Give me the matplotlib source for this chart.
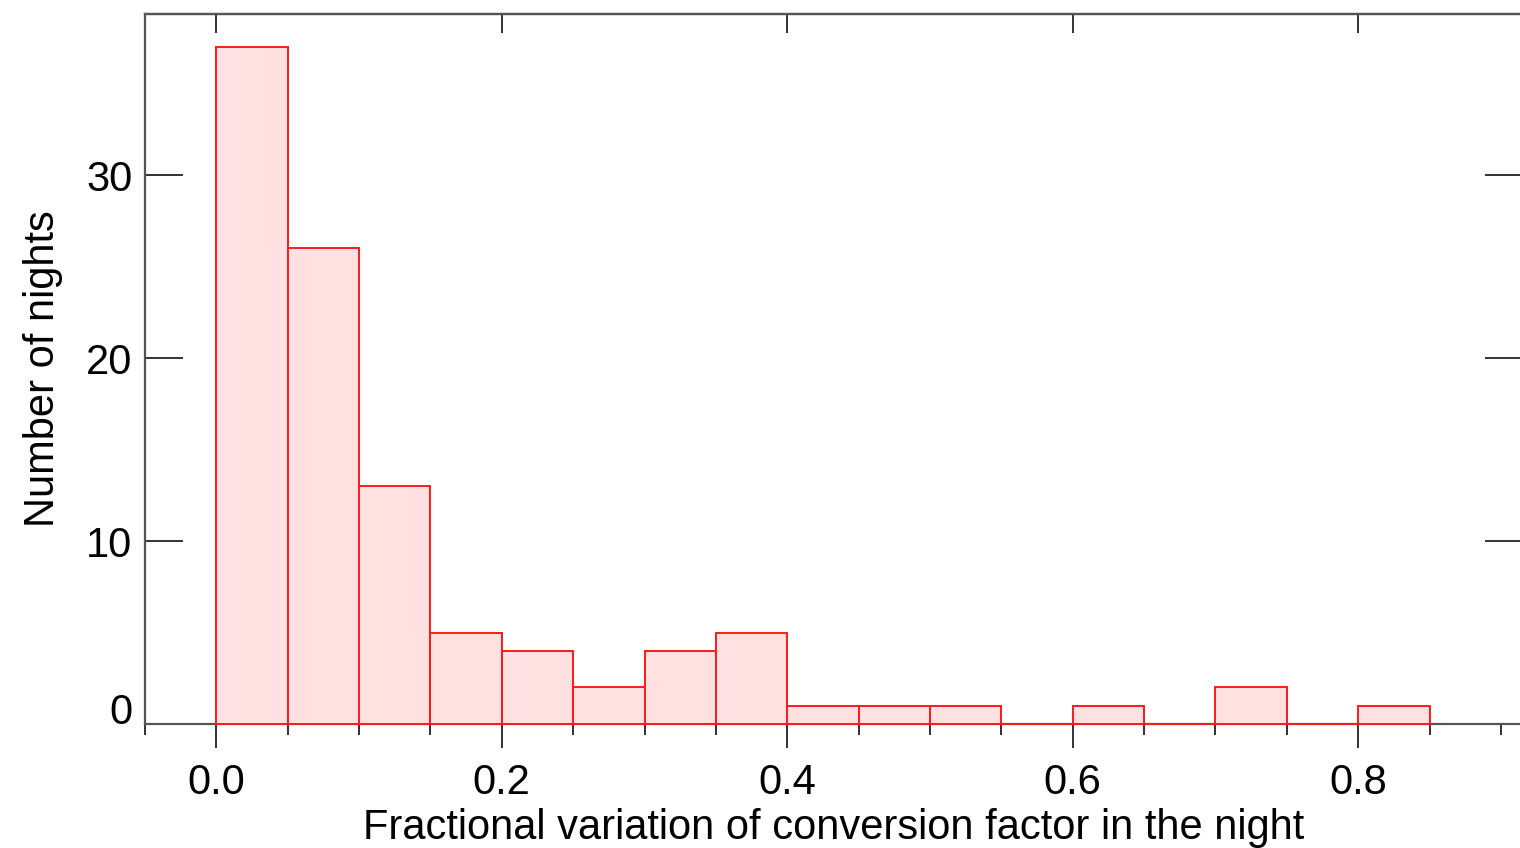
import matplotlib
matplotlib.use("Agg")
import matplotlib.pyplot as plt
import numpy as np

# Data: histogram bin left edges (width 0.05) and counts
bin_left = [0.00, 0.05, 0.10, 0.15, 0.20, 0.25, 0.30, 0.35, 0.40, 0.45,
            0.50, 0.55, 0.60, 0.65, 0.70, 0.75, 0.80]
counts = [37, 26, 13, 5, 4, 2, 4, 5, 1, 1, 1, 0, 1, 0, 2, 0, 1]
bin_width = 0.05
x_major = [0.0, 0.2, 0.4, 0.6, 0.8]
x_major_labels = ["0.0", "0.2", "0.4", "0.6", "0.8"]
y_major = [0, 10, 20, 30]
y_major_labels = ["0", "10", "20", "30"]

plt.rcParams['font.family'] = ['Liberation Sans', 'DejaVu Sans']

W, H = 1520, 848
fig = plt.figure(figsize=(W / 100, H / 100), dpi=100)
left, right, top, bottom = 145, 1522, 14, 724
ax = fig.add_axes([left / W, 1 - bottom / H, (right - left) / W, (bottom - top) / H])

ax.bar(bin_left, counts, width=bin_width, align='edge',
       facecolor='#ffe1e1', edgecolor='#ff1a1a', linewidth=1.4, zorder=3,
       clip_on=False)

ax.set_xlim(-0.05, 0.9148)
ax.set_ylim(0, 38.8)

spine_col = '#555555'
for s in ax.spines.values():
    s.set_color(spine_col)
    s.set_linewidth(1.6)

ax.set_xticks(x_major)
ax.set_xticklabels(x_major_labels)
ax.set_xticks(np.arange(-0.05, 0.95, 0.05), minor=True)
ax.tick_params(axis='x', which='major', direction='out', length=17, width=1.3,
               color='#222222', labelsize=30, pad=11, top=False, bottom=True)
ax.tick_params(axis='x', which='minor', direction='out', length=8, width=1.3,
               color='#222222', top=False, bottom=True)

ax.set_yticks(y_major)
ax.set_yticklabels(y_major_labels)
ax.tick_params(axis='y', which='major', direction='in', length=27, width=1.3,
               color='#222222', labelsize=30, pad=9, left=True, right=True)

# top axis: major ticks only, inward
sec = ax.secondary_xaxis('top')
sec.set_xticks(x_major)
sec.tick_params(axis='x', which='major', direction='in', length=14, width=1.3,
                color='#222222', labeltop=False)
sec.tick_params(axis='x', which='minor', length=0)
sec.spines['top'].set_color(spine_col)
sec.spines['top'].set_linewidth(1.6)

# raise the "0" label as in the reference
ax.get_yticklabels()[0].set_verticalalignment('baseline')

ax.set_xlabel("Fractional variation of conversion factor in the night", fontsize=30, labelpad=4)
ax.set_ylabel("Number of nights", fontsize=30, labelpad=17)

fig.savefig("out.png", dpi=100)
